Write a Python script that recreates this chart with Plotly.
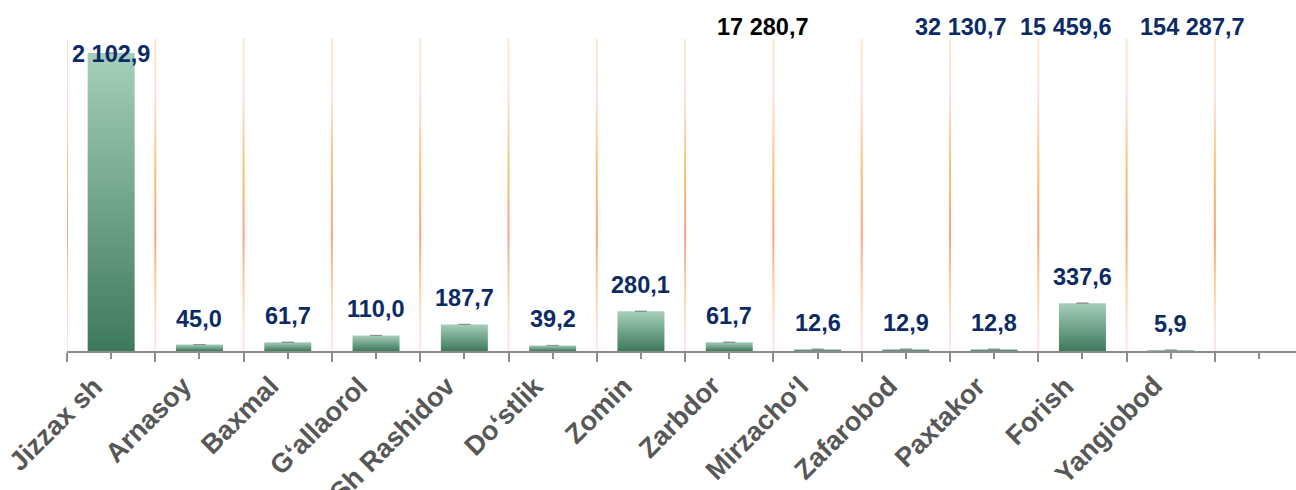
import plotly.graph_objects as go

# District figures
categories = ["Jizzax sh", "Arnasoy", "Baxmal", "G‘allaorol", "Sh Rashidov", "Do‘stlik",
              "Zomin", "Zarbdor", "Mirzacho‘l", "Zafarobod", "Paxtakor", "Forish", "Yangiobod"]
values = [2102.9, 45.0, 61.7, 110.0, 187.7, 39.2, 280.1, 61.7, 12.6, 12.9, 12.8, 337.6, 5.9]

# Extra figures printed along the top edge
top_values = [17280.7, 32130.7, 15459.6, 154287.7]
top_positions = [7.38, 9.62, 10.81, 12.25]

NAVY = "#0b2b66"
GRAY = "#575757"
AXIS_GRAY = "#8c8c8c"
top_colors = ["#000000", NAVY, NAVY, NAVY]
FONT = "Liberation Sans, Arial, sans-serif"

W, H = 1296, 490
M_L, M_R, M_T, M_B = 67, 0, 39, 139
PLOT_H = H - M_T - M_B
SLOT_PX = 88.3
Y_MAX = 2202
X_MIN = -0.5
X_MAX = X_MIN + (W - M_L - M_R) / SLOT_PX
PX = PLOT_H / Y_MAX          # pixels per data unit on y
BAR_HALF = 0.266
GRID_HALF = 1.0 / SLOT_PX


def fmt(v):
    return f"{v:,.1f}".replace(",", " ").replace(".", ",")


fig = go.Figure()

# vertical gridlines at the category boundaries, with a warm vertical gradient
gx, gy = [], []
for k in range(len(categories) + 2):
    b = -0.5 + k
    gx += [b - GRID_HALF, b + GRID_HALF, b + GRID_HALF, b - GRID_HALF, b - GRID_HALF, None]
    gy += [0, 0, Y_MAX, Y_MAX, 0, None]
fig.add_trace(go.Scatter(
    x=gx, y=gy, mode="lines", fill="toself", line=dict(width=0),
    fillgradient=dict(type="vertical", colorscale=[
        [0.0, "#fde8ea"], [0.08, "#fde0dc"], [0.2, "#fdd3a2"], [0.37, "#f8a37c"],
        [0.6, "#fcc27a"], [0.82, "#fde0e0"], [1.0, "#fde8c8"]]),
    hoverinfo="skip", showlegend=False))

# bars, each shaded from dark green at the base to pale green at the top
for i, v in enumerate(values):
    fig.add_trace(go.Scatter(
        x=[i - BAR_HALF, i + BAR_HALF, i + BAR_HALF, i - BAR_HALF, i - BAR_HALF],
        y=[0, 0, v, v, 0], mode="lines", fill="toself", line=dict(width=0),
        fillgradient=dict(type="vertical",
                          colorscale=[[0.0, "#3e795c"], [1.0, "#a6cfbb"]]),
        name=categories[i], hoverinfo="skip", showlegend=False))

# small caps on the bar tops
fig.add_trace(go.Scatter(
    x=list(range(len(values))), y=values, mode="markers",
    marker=dict(size=1, opacity=0),
    error_y=dict(type="data", array=[0] * len(values), visible=True,
                 width=6, thickness=1, color="#8f8f8f"),
    hoverinfo="skip", showlegend=False))

annotations = []
for i, v in enumerate(values):
    annotations.append(dict(
        x=i, y=min(v + 26 / PX, Y_MAX - 15 / PX), xref="x", yref="y",
        text=fmt(v), showarrow=False, xanchor="center", yanchor="middle",
        font=dict(family=FONT, size=23.5, color=NAVY, weight="bold")))
for pos, v, c in zip(top_positions, top_values, top_colors):
    annotations.append(dict(
        x=pos, y=1, xref="x", yref="paper", yshift=12,
        text=fmt(v), showarrow=False, xanchor="center", yanchor="middle",
        font=dict(family=FONT, size=23.5, color=c, weight="bold")))
# slanted category names under the axis
for i, name in enumerate(categories):
    annotations.append(dict(
        x=i, y=-17 / PLOT_H, xref="x", yref="paper", xshift=0,
        text=name, textangle=-45, showarrow=False,
        xanchor="right", yanchor="top",
        font=dict(family=FONT, size=27, color=GRAY, weight="bold")))

fig.update_layout(
    width=W, height=H,
    margin=dict(l=M_L, r=M_R, t=M_T, b=M_B, pad=0),
    paper_bgcolor="white", plot_bgcolor="white",
    annotations=annotations,
    xaxis=dict(
        type="linear", range=[X_MIN, X_MAX], automargin=False,
        tickmode="array", tickvals=list(range(len(categories) + 1)),
        showticklabels=False,
        ticks="outside", ticklen=6, tickwidth=2, tickcolor=AXIS_GRAY,
        minor=dict(tickmode="array",
                   tickvals=[-0.5 + k for k in range(len(categories) + 2)],
                   ticks="outside", ticklen=9, tickwidth=2, tickcolor=AXIS_GRAY,
                   showgrid=False),
        showline=True, linecolor=AXIS_GRAY, linewidth=2,
        showgrid=False, zeroline=False, fixedrange=True),
    yaxis=dict(range=[0, Y_MAX], visible=False, fixedrange=True),
)

fig.write_html("out.html")
